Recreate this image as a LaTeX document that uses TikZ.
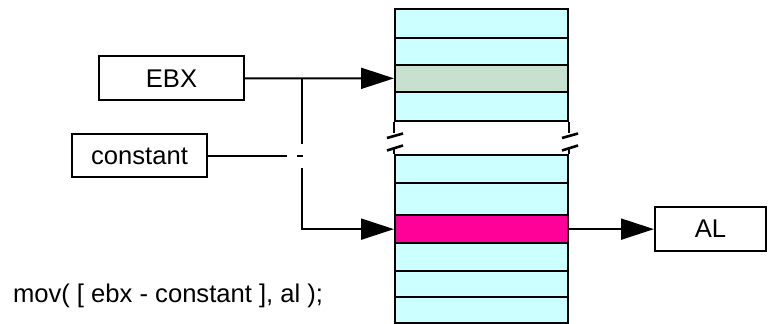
\documentclass[tikz,border=0pt]{standalone}
\usepackage{fontspec}
\setmainfont{Liberation Sans}
\usetikzlibrary{arrows.meta,positioning}
\definecolor{cellcyan}{HTML}{CCFFFF}
\definecolor{cellgrey}{HTML}{C8E0D0}
\definecolor{cellpink}{HTML}{FF0099}

\begin{document}
\begin{tikzpicture}[
  x=0.5pt, y=-0.5pt, line width=1pt,
  reg/.style={draw, minimum height=22pt, inner sep=0pt,
              font=\fontsize{12.8}{15}\selectfont},
  cell/.style={draw, minimum width=86.5pt, inner sep=0pt},
  ptr/.style={-{Triangle[length=16.5pt, width=10.5pt]}},
  cut/.style={line width=1.3pt},
  code/.style={anchor=base west, inner sep=0pt,
               font=\fontsize{12.8}{15}\selectfont}
]
  \useasboundingbox (0,0) rectangle (768,324);

  % memory column
  \foreach \name/\top/\bot/\col in {t1/9.3/38.3/cellcyan, t2/38.3/65/cellcyan,
      t3/65/91.7/cellgrey, t4/91.7/120.7/cellcyan,
      b1/155/182.7/cellcyan, b2/182.7/215/cellcyan, b3/215/243.3/cellpink,
      b4/243.3/270.7/cellcyan, b5/270.7/297.3/cellcyan, b6/297.3/323.3/cellcyan} {
    \pgfmathsetmacro\h{(\bot-\top)*0.5}
    \node[cell, fill=\col, minimum height=\h pt] (\name) at (481.5,{(\top+\bot)/2}) {};
  }

  % broken edges
  \foreach \side in {west, east} {
    \draw (t4.south \side) -- ++(0,11.5);
    \draw (b1.north \side) -- ++(0,-7);
    \draw[cut] ([shift={(-7,16.3)}]t4.south \side) -- ++(16,-4.5);
    \draw[cut] ([shift={(-7,-3.5)}]b1.north \side) -- ++(16,-5);
  }

  \node[reg, minimum width=72.5pt] (ebx)   at (171.5,78.35) {EBX};
  \node[reg, minimum width=67.5pt, minimum height=21.5pt] (const) at (139.5,156) {constant};
  \node[reg, minimum width=55.5pt] (al)    at (710.5,229.15) {AL};

  \coordinate (fork)  at (302,78.35);
  \coordinate (gapA)  at (302,144);
  \coordinate (gapB)  at (302,168);
  \coordinate (cEnd)  at (287,156);
  \coordinate (dashL) at (297,156);
  \coordinate (dashR) at (303,156);

  \draw[ptr] (ebx.east) -- (t3.west);
  \draw (fork) -- (gapA);
  \draw[ptr] (gapB) |- (b3.west);
  \draw (const.east) -- (cEnd);
  \draw (dashL) -- (dashR);
  \draw[ptr] (b3.east) -- (al.west);

  \node[code] (instr) at (12,303) {mov( [ ebx - constant ], al );};
\end{tikzpicture}
\end{document}
